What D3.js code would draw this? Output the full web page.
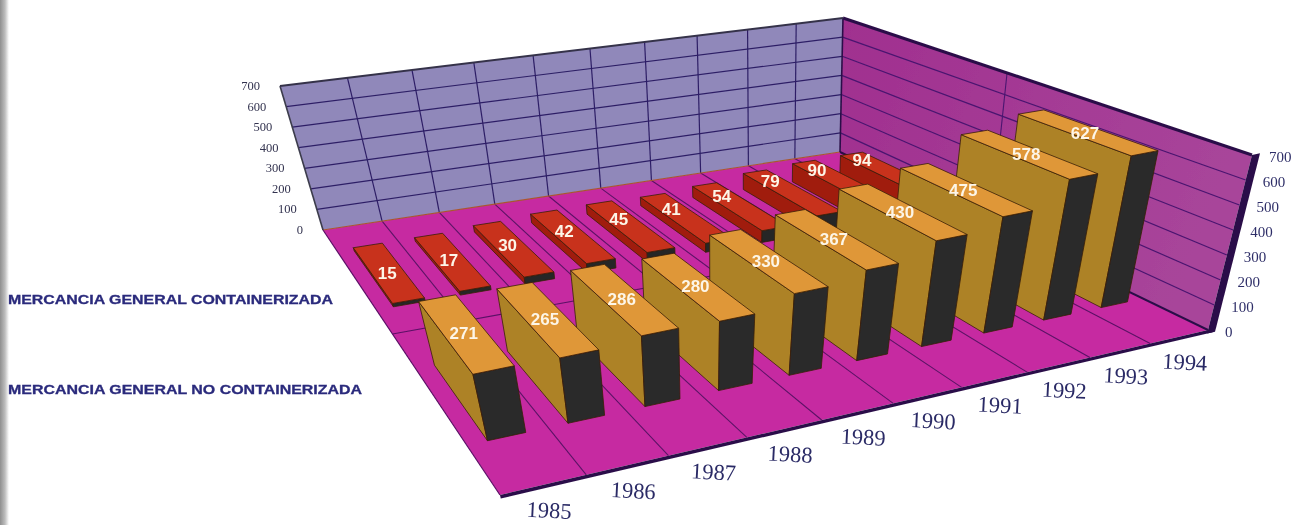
<!doctype html>
<html>
<head>
<title>Mercancia general</title>
<script src="https://cdn.jsdelivr.net/npm/d3@7"></script>
<style>
html, body { width: 100%; height: 100%; margin: 0px; padding: 0px; background: #fff; }
svg { display: block; }
</style>
</head>
<body>
<svg class="svg" width="1298" height="525"></svg>
<script>
var years = [1985, 1986, 1987, 1988, 1989, 1990, 1991, 1992, 1993, 1994];
var containerized = [15, 17, 30, 42, 45, 41, 54, 79, 90, 94];
var nonContainerized = [271, 265, 286, 280, 330, 367, 430, 475, 578, 627];
var heightTicks = [0, 100, 200, 300, 400, 500, 600, 700];
var seriesNames = ['MERCANCIA GENERAL CONTAINERIZADA', 'MERCANCIA GENERAL NO CONTAINERIZADA'];

// corners of the floor and of the ceiling plane on screen: back-left, back-right, front-right, front-left
var floorQuad = [[323, 230], [840, 152], [1208, 330], [500, 495]];
var topQuad = [[280, 86], [843, 18], [1252, 155], [461, 321]];

function homography(q) {
    var dx1 = q[1][0] - q[2][0], dx2 = q[3][0] - q[2][0], sx = q[0][0] - q[1][0] + q[2][0] - q[3][0];
    var dy1 = q[1][1] - q[2][1], dy2 = q[3][1] - q[2][1], sy = q[0][1] - q[1][1] + q[2][1] - q[3][1];
    var den = dx1 * dy2 - dx2 * dy1;
    var g = (sx * dy2 - dx2 * sy) / den, h = (dx1 * sy - sx * dy1) / den;
    var a = q[1][0] - q[0][0] + g * q[1][0], b = q[3][0] - q[0][0] + h * q[3][0], c = q[0][0];
    var d = q[1][1] - q[0][1] + g * q[1][1], e = q[3][1] - q[0][1] + h * q[3][1], f = q[0][1];
    return function(s, t) {
        var w = g * s + h * t + 1;
        return [(a * s + b * t + c) / w, (d * s + e * t + f) / w];
    };
}

var floorH = homography(floorQuad), topH = homography(topQuad);

var xScale = d3.scaleLinear().domain([0, years.length]).range([0, 1]);
var depthScale = d3.scaleLinear().domain([0, 1]).range([1, 0]); // 0 = front edge, 1 = back wall
var yScale = d3.scaleLinear().domain([0, 700]).range([0, 1]);

function project(u, v, value) {
    var s = xScale(u), t = depthScale(v), k = yScale(value);
    var a = floorH(s, t), b = topH(s, t);
    return [a[0] + (b[0] - a[0]) * k, a[1] + (b[1] - a[1]) * k];
}

var line = d3.line();
function poly(points) { return line(points) + 'Z'; }

var svg = d3.select('svg');

var defs = svg.append('defs');
var gutter = defs.append('linearGradient').attr('id', 'gutter');
gutter.append('stop').attr('offset', '0%').attr('stop-color', '#8f8f8f');
gutter.append('stop').attr('offset', '55%').attr('stop-color', '#bdbdbd');
gutter.append('stop').attr('offset', '100%').attr('stop-color', '#ffffff');
var wallGrad = defs.append('linearGradient').attr('id', 'rightwall')
    .attr('x1', '0%').attr('x2', '100%').attr('y1', '0%').attr('y2', '30%');
wallGrad.append('stop').attr('offset', '0%').attr('stop-color', '#a02f8f');
wallGrad.append('stop').attr('offset', '100%').attr('stop-color', '#a8459a');
defs.append('filter').attr('id', 'soft').append('feGaussianBlur').attr('stdDeviation', 0.7);
defs.append('filter').attr('id', 'softtext').append('feGaussianBlur').attr('stdDeviation', 0.4);

svg.append('rect').attr('x', 0).attr('y', 0).attr('width', 9).attr('height', 525).attr('fill', 'url(#gutter)');

var chart = svg.append('g').attr('filter', 'url(#soft)');

var n = years.length;

// walls and floor
chart.append('path').attr('fill', '#9088ba')
    .attr('d', poly([project(0, 1, 0), project(n, 1, 0), project(n, 1, 700), project(0, 1, 700)]));
chart.append('path').attr('fill', 'url(#rightwall)')
    .attr('d', poly([project(n, 1, 0), project(n, 0, 0), project(n, 0, 700), project(n, 1, 700)]));
chart.append('path').attr('fill', '#c62ca1')
    .attr('d', poly([project(0, 1, 0), project(n, 1, 0), project(n, 0, 0), project(0, 0, 0)]));

// floor slab edge and thick edge of the right wall
chart.append('path').attr('fill', '#2b0f48')
    .attr('d', poly([project(0, 0, 0), project(n, 0, 0), project(n + 0.1, 0, -14), project(0, 0, -14)]));
chart.append('path').attr('fill', '#2b0f48')
    .attr('d', poly([project(n, 0, -14), project(n, 0, 700), project(n + 0.14, 0, 700), project(n + 0.14, 0, -14)]));

// grid
var gridColor = '#2d1f66';
function gridLine(a, b, color, width) {
    chart.append('path').attr('fill', 'none').attr('stroke', color).attr('stroke-width', width).attr('d', line([a, b]));
}
d3.range(1, n).forEach(function(u) {
    gridLine(project(u, 1, 0), project(u, 1, 700), gridColor, 1.2);
    gridLine(project(u, 0, 0), project(u, 1, 0), '#5b1166', 1.1);
});
heightTicks.slice(1, -1).forEach(function(h) {
    gridLine(project(0, 1, h), project(n, 1, h), gridColor, 1.2);
    gridLine(project(n, 1, h), project(n, 0, h), '#4a1670', 1.2);
});
gridLine(project(0, 0.5, 0), project(n, 0.5, 0), '#5b1166', 1.1);
gridLine(project(n, 0.5, 0), project(n, 0.5, 700), '#4a1670', 1.1);
gridLine(project(0, 1, 0), project(n, 1, 0), '#a8582f', 1.2);
gridLine(project(n, 1, 0), project(n, 1, 700), '#2b0f48', 1.6);
gridLine(project(n, 1, 0), project(n, 0, 0), '#2b0f48', 2);
gridLine(project(0, 1, 0), project(0, 1, 700), '#3c3c4c', 1.6);
gridLine(project(0, 1, 700), project(n, 1, 700), '#35334a', 2);
gridLine(project(n, 1, 700), project(n, 0, 700), '#2b0f48', 3);
gridLine(project(0, 1, 0), project(0, 0, 0), '#5b1166', 1.2);

// bars: far row first, inside a row right to left because the viewer stands on the left
var barInset = 0.25, barOuter = 0.72;
function drawRow(values, vFront, vBack, colors) {
    var rows = values.map(function(d, i) { return {value: d, u0: i + barInset, u1: i + barOuter}; }).reverse();
    var bar = chart.append('g').selectAll('g').data(rows).join('g')
        .attr('stroke', '#3a2008').attr('stroke-width', 0.8).attr('stroke-linejoin', 'round');
    bar.append('path').attr('fill', colors.side).attr('d', function(d) {
        return poly([project(d.u0, vBack, 0), project(d.u0, vFront, 0), project(d.u0, vFront, d.value), project(d.u0, vBack, d.value)]);
    });
    bar.append('path').attr('fill', colors.front).attr('d', function(d) {
        return poly([project(d.u0, vFront, 0), project(d.u1, vFront, 0), project(d.u1, vFront, d.value), project(d.u0, vFront, d.value)]);
    });
    bar.append('path').attr('fill', colors.top).attr('d', function(d) {
        return poly([project(d.u0, vBack, d.value), project(d.u1, vBack, d.value), project(d.u1, vFront, d.value), project(d.u0, vFront, d.value)]);
    });
}
drawRow(containerized, 0.6, 0.87, {top: '#c8321c', side: '#a01c10', front: '#262626'});
drawRow(nonContainerized, 0.13, 0.37, {top: '#df9738', side: '#ad8228', front: '#2a2a2a'});

// labels
var labels = svg.append('g').attr('filter', 'url(#softtext)');
function valueLabels(values, vFront, vBack, drift, dy) {
    labels.append('g').selectAll('text').data(values).join('text')
        .attr('transform', function(d, i) {
            var v = vFront + (vBack - vFront) * (0.5 + drift * i);
            var p = project(i + (barInset + barOuter) / 2, v, d);
            return 'translate(' + p[0] + ',' + (p[1] + dy) + ')';
        })
        .attr('text-anchor', 'middle')
        .attr('font-family', '"Liberation Sans", Arial, sans-serif')
        .attr('font-weight', 'bold')
        .attr('font-size', 17)
        .attr('fill', '#fdf6e8')
        .text(function(d) { return d; });
}
valueLabels(containerized, 0.6, 0.87, 0.04, 7);
valueLabels(nonContainerized, 0.13, 0.37, 0, 7);

var serif = '"Liberation Serif", "Times New Roman", serif';
labels.append('g').selectAll('text').data(heightTicks).join('text')
    .attr('x', function(d) { return project(0, 1, d)[0] - 20; })
    .attr('y', function(d) { return project(0, 1, d)[1] + 4; })
    .attr('text-anchor', 'end').attr('font-family', serif).attr('font-size', 12.5).attr('fill', '#33334f')
    .text(function(d) { return d; });
labels.append('g').selectAll('text').data(heightTicks).join('text')
    .attr('x', function(d) { return project(n, 0, d)[0] + 17; })
    .attr('y', function(d) { return project(n, 0, d)[1] + 7; })
    .attr('text-anchor', 'start').attr('font-family', serif).attr('font-size', 15).attr('fill', '#2f2f68')
    .text(function(d) { return d; });
labels.append('g').selectAll('text').data(years).join('text')
    .attr('transform', function(d, i) {
        var p = project(i + 0.5, 0, 0);
        return 'translate(' + (p[0] + 5) + ',' + (p[1] + 33) + ') rotate(3)';
    })
    .attr('text-anchor', 'middle').attr('font-family', serif).attr('font-size', 22.5).attr('fill', '#2b2b66')
    .text(function(d) { return d; });

labels.append('g').selectAll('text').data(seriesNames).join('text')
    .attr('x', 8)
    .attr('y', function(d, i) { return i === 0 ? 304 : 394; })
    .attr('textLength', function(d, i) { return i === 0 ? 325 : 354; })
    .attr('lengthAdjust', 'spacingAndGlyphs')
    .attr('font-family', '"Liberation Sans", Arial, sans-serif')
    .attr('font-weight', 'bold').attr('font-size', 12.5).attr('fill', '#2a2a7c')
    .attr('stroke', '#2a2a7c').attr('stroke-width', 0.3)
    .text(function(d) { return d; });
</script>
</body>
</html>
